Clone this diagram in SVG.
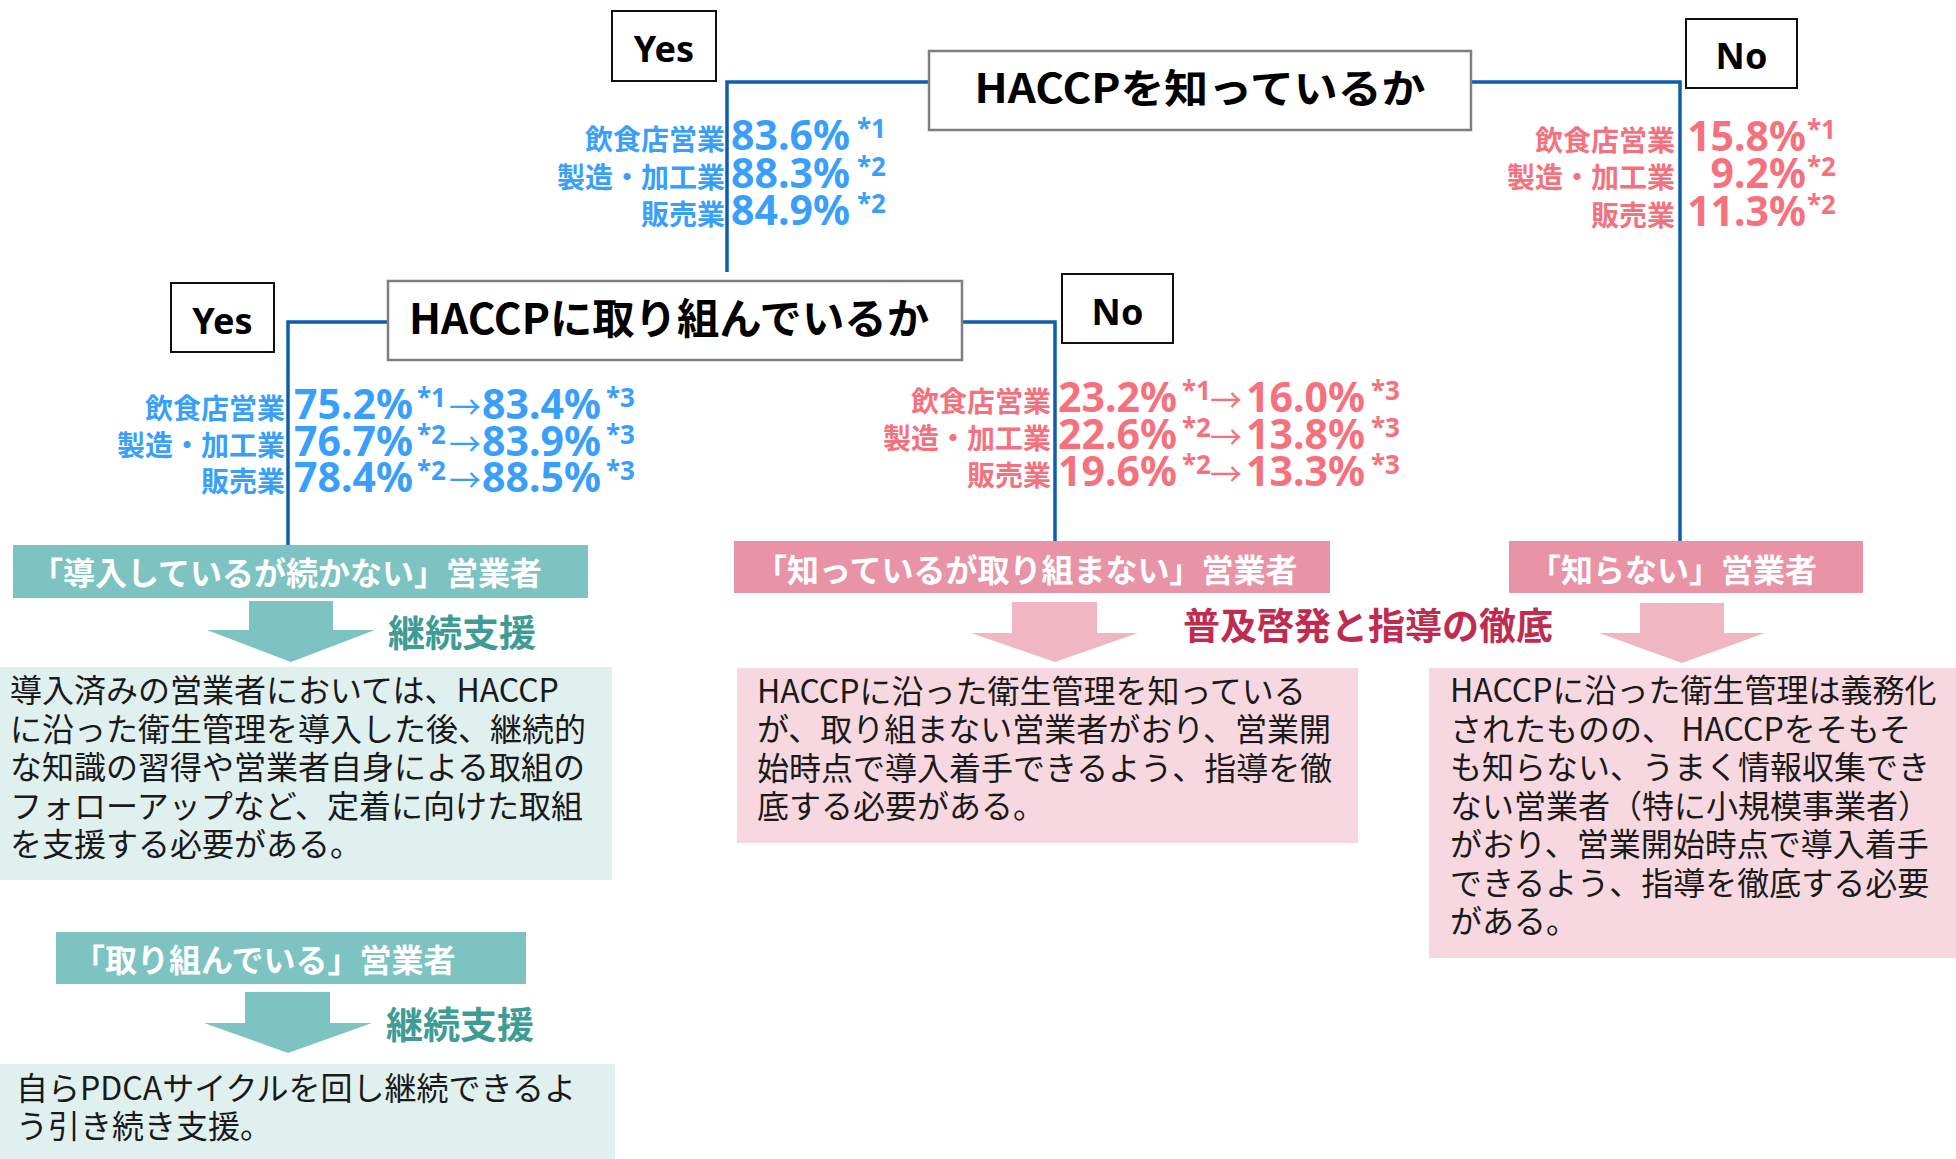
<svg xmlns="http://www.w3.org/2000/svg" width="1956" height="1159" viewBox="0 0 1956 1159">
<style>
.line{fill:none;stroke:#0F5DAE;stroke-width:3.5;stroke-linejoin:miter}
.qbox{fill:#fff;stroke:#7F7F7F;stroke-width:2.5}
.ynbox{fill:#fff;stroke:#111;stroke-width:2}
.yn{font-family:"Noto Sans","Liberation Sans",sans-serif;font-weight:700;font-size:36px;text-anchor:middle;fill:#000}
.q{font-family:"Noto Sans CJK JP",sans-serif;font-weight:700;fill:#000;text-anchor:middle}
.stats{font-family:"Noto Sans","Noto Sans CJK JP",sans-serif;font-weight:700}
.lab{font-family:"Noto Sans CJK JP",sans-serif;font-weight:700;font-size:28px;text-anchor:end}
.num{font-family:"Noto Sans","Liberation Sans",sans-serif;font-weight:700;font-size:41px;text-anchor:start}
.numr{font-family:"Noto Sans","Liberation Sans",sans-serif;font-weight:700;font-size:41px;text-anchor:end}
.sup{font-family:"Noto Sans","Liberation Sans",sans-serif;font-weight:700;font-size:26px;text-anchor:start}
.arr{font-family:"Noto Sans CJK JP",sans-serif;font-weight:400;font-size:32px;text-anchor:start}
.blue{fill:#3A9FFB}
.pink{fill:#F5717D}
.ban{font-family:"Noto Sans CJK JP",sans-serif;font-weight:700;font-size:32px;fill:#fff}
.body{font-family:"Noto Sans CJK JP",sans-serif;font-size:32px;fill:#1a1a1a}
.key{font-family:"Noto Sans CJK JP",sans-serif;font-weight:700;font-size:37px}
.teal{fill:#7DC3C1}
.tealbox{fill:#DFF0EF}
.pinkban{fill:#E993A6}
.pinkarr{fill:#F0B7C3}
.pinkbox{fill:#F7D8E0}
</style>

<g id="connectors">
<path class="line" d="M727,272 V82 H929"/>
<path class="line" d="M1471,82 H1680 V541"/>
<path class="line" d="M288,545 V322 H388"/>
<path class="line" d="M962,322 H1055 V541"/>
<polygon class="teal" points="249,601 333,601 333,630 375,630 291,662 207,630 249,630"/>
<polygon class="pinkarr" points="1012,602 1097,602 1097,633 1138,633 1055,662 971,633 1012,633"/>
<polygon class="pinkarr" points="1640,603 1724,603 1724,633 1765,633 1682,663 1599,633 1640,633"/>
<polygon class="teal" points="245,992 330,992 330,1023 372,1023 288,1053 204,1023 245,1023"/>
</g>

<g id="q1">
<rect class="qbox" x="929" y="51" width="542" height="79"/>
<text class="q" x="1200" y="103" font-size="40" textLength="451" lengthAdjust="spacingAndGlyphs">HACCPを知っているか</text>
</g>

<g id="yes1">
<rect class="ynbox" x="612" y="11" width="104" height="70"/>
<text class="yn" x="664" y="62">Yes</text>
</g>

<g id="no1">
<rect class="ynbox" x="1686" y="19" width="111" height="69"/>
<text class="yn" x="1741.5" y="69">No</text>
</g>

<g id="stats-yes1">
<text class="stats blue"><tspan class="lab" x="725" y="150">飲食店営業</tspan><tspan class="num" x="731" y="150">83.6%</tspan><tspan class="sup" x="857" y="138">*1</tspan><tspan class="lab" x="725" y="188">製造・加工業</tspan><tspan class="num" x="731" y="188">88.3%</tspan><tspan class="sup" x="857" y="176">*2</tspan><tspan class="lab" x="725" y="225">販売業</tspan><tspan class="num" x="731" y="225">84.9%</tspan><tspan class="sup" x="857" y="213">*2</tspan></text>
</g>

<g id="stats-no1">
<text class="stats pink"><tspan class="lab" x="1675" y="151">飲食店営業</tspan><tspan class="numr" x="1806" y="151">15.8%</tspan><tspan class="sup" x="1807" y="139">*1</tspan><tspan class="lab" x="1675" y="188">製造・加工業</tspan><tspan class="numr" x="1806" y="188">9.2%</tspan><tspan class="sup" x="1807" y="176">*2</tspan><tspan class="lab" x="1675" y="226">販売業</tspan><tspan class="numr" x="1806" y="226">11.3%</tspan><tspan class="sup" x="1807" y="214">*2</tspan></text>
</g>

<g id="q2">
<rect class="qbox" x="388" y="281" width="574" height="79"/>
<text class="q" x="669" y="334" font-size="42" textLength="520" lengthAdjust="spacingAndGlyphs">HACCPに取り組んでいるか</text>
</g>

<g id="yes2">
<rect class="ynbox" x="171" y="283" width="103" height="69"/>
<text class="yn" x="222.5" y="334">Yes</text>
</g>

<g id="no2">
<rect class="ynbox" x="1062" y="274" width="111" height="69"/>
<text class="yn" x="1117.5" y="325">No</text>
</g>

<g id="stats-yes2">
<text class="stats blue"><tspan class="lab" x="285" y="419">飲食店営業</tspan><tspan class="num" x="294" y="419">75.2%</tspan><tspan class="sup" x="417" y="407">*1</tspan><tspan class="arr" x="449" y="419">→</tspan><tspan class="num" x="482" y="419">83.4%</tspan><tspan class="sup" x="606" y="407">*3</tspan><tspan class="lab" x="285" y="456">製造・加工業</tspan><tspan class="num" x="294" y="456">76.7%</tspan><tspan class="sup" x="417" y="444">*2</tspan><tspan class="arr" x="449" y="456">→</tspan><tspan class="num" x="482" y="456">83.9%</tspan><tspan class="sup" x="606" y="444">*3</tspan><tspan class="lab" x="285" y="492">販売業</tspan><tspan class="num" x="294" y="492">78.4%</tspan><tspan class="sup" x="417" y="480">*2</tspan><tspan class="arr" x="449" y="492">→</tspan><tspan class="num" x="482" y="492">88.5%</tspan><tspan class="sup" x="606" y="480">*3</tspan></text>
</g>

<g id="stats-no2">
<text class="stats pink"><tspan class="lab" x="1051" y="412">飲食店営業</tspan><tspan class="num" x="1058" y="412">23.2%</tspan><tspan class="sup" x="1182" y="400">*1</tspan><tspan class="arr" x="1210" y="412">→</tspan><tspan class="num" x="1246" y="412">16.0%</tspan><tspan class="sup" x="1371" y="400">*3</tspan><tspan class="lab" x="1051" y="449">製造・加工業</tspan><tspan class="num" x="1058" y="449">22.6%</tspan><tspan class="sup" x="1182" y="437">*2</tspan><tspan class="arr" x="1210" y="449">→</tspan><tspan class="num" x="1246" y="449">13.8%</tspan><tspan class="sup" x="1371" y="437">*3</tspan><tspan class="lab" x="1051" y="486">販売業</tspan><tspan class="num" x="1058" y="486">19.6%</tspan><tspan class="sup" x="1182" y="474">*2</tspan><tspan class="arr" x="1210" y="486">→</tspan><tspan class="num" x="1246" y="486">13.3%</tspan><tspan class="sup" x="1371" y="474">*3</tspan></text>
</g>

<g id="group-continue">
<rect class="teal" x="13" y="545" width="575" height="53"/>
<text class="ban" x="31" y="585">「導入しているが続かない」営業者</text>
<text class="key" x="388" y="647" fill="#3E9C95">継続支援</text>
<rect class="tealbox" x="0" y="667" width="612" height="213"/>
<text class="body">
<tspan x="10" y="702">導入済みの営業者においては、HACCP</tspan>
<tspan x="10" y="740.5">に沿った衛生管理を導入した後、継続的</tspan>
<tspan x="10" y="779">な知識の習得や営業者自身による取組の</tspan>
<tspan x="10" y="817.5">フォローアップなど、定着に向けた取組</tspan>
<tspan x="10" y="856">を支援する必要がある。</tspan>
</text>
</g>

<g id="group-not-working">
<rect class="pinkban" x="734" y="541" width="596" height="52"/>
<text class="ban" x="755" y="582">「知っているが取り組まない」営業者</text>
<text class="key" x="1183" y="640" fill="#C02C50">普及啓発と指導の徹底</text>
<rect class="pinkbox" x="737" y="668" width="621" height="175"/>
<text class="body">
<tspan x="757" y="703">HACCPに沿った衛生管理を知っている</tspan>
<tspan x="757" y="741">が、取り組まない営業者がおり、営業開</tspan>
<tspan x="757" y="780">始時点で導入着手できるよう、指導を徹</tspan>
<tspan x="757" y="818">底する必要がある。</tspan>
</text>
</g>

<g id="group-unknown">
<rect class="pinkban" x="1509" y="541" width="354" height="52"/>
<text class="ban" x="1529" y="582">「知らない」営業者</text>
<rect class="pinkbox" x="1429" y="668" width="527" height="290"/>
<text class="body">
<tspan x="1450" y="702">HACCPに沿った衛生管理は義務化</tspan>
<tspan x="1450" y="740.5">されたものの、 HACCPをそもそ</tspan>
<tspan x="1450" y="779">も知らない、うまく情報収集でき</tspan>
<tspan x="1450" y="817.5">ない営業者（特に小規模事業者）</tspan>
<tspan x="1450" y="856">がおり、営業開始時点で導入着手</tspan>
<tspan x="1450" y="894.5">できるよう、指導を徹底する必要</tspan>
<tspan x="1450" y="933">がある。</tspan>
</text>
</g>

<g id="group-working">
<rect class="teal" x="56" y="932" width="470" height="52"/>
<text class="ban" x="73" y="972">「取り組んでいる」営業者</text>
<text class="key" x="386" y="1039" fill="#3E9C95">継続支援</text>
<rect class="tealbox" x="0" y="1064" width="615" height="95"/>
<text class="body">
<tspan x="16" y="1100">自らPDCAサイクルを回し継続できるよ</tspan>
<tspan x="16" y="1138">う引き続き支援。</tspan>
</text>
</g>
</svg>
